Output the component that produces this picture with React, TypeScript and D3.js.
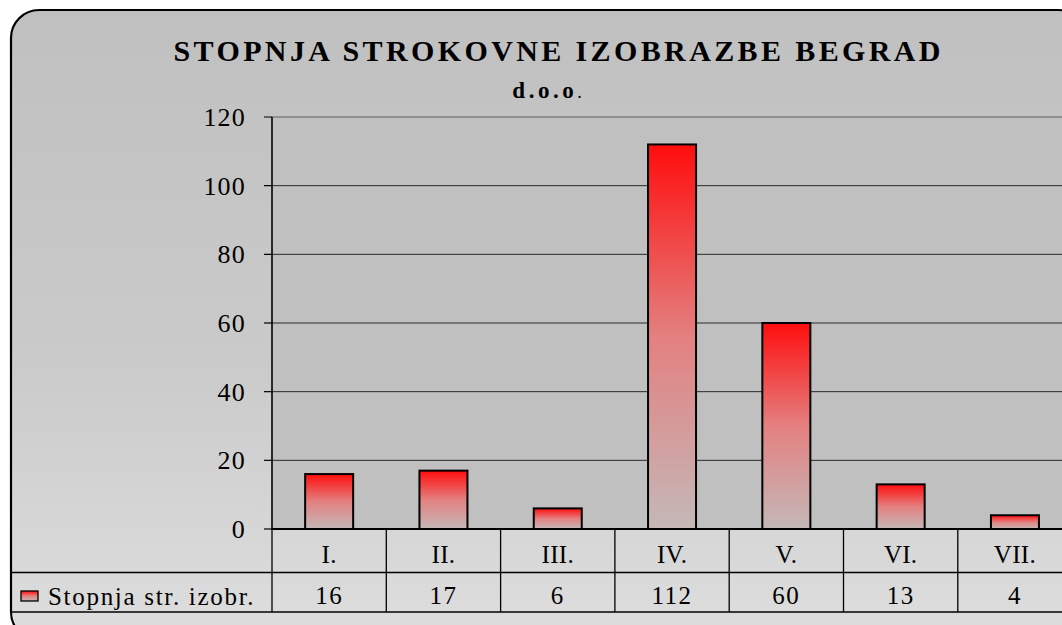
import React from 'react';
import * as d3 from 'd3';

const categories = ['I.', 'II.', 'III.', 'IV.', 'V.', 'VI.', 'VII.'];
const values = [16, 17, 6, 112, 60, 13, 4];
const yTicks = [0, 20, 40, 60, 80, 100, 120];
const seriesName = 'Stopnja str. izobr.';
const titleLine1 = 'STOPNJA STROKOVNE IZOBRAZBE BEGRAD';
const titleLine2 = 'd.o.o';

const W = 1062;
const H = 625;
const FONT = '"Liberation Serif", "Times New Roman", serif';

export default function App() {
  const plotLeft = 272;
  const plotTop = 117;
  const plotBottom = 529;
  const band = 114.3;
  const plotRight = plotLeft + band * categories.length;
  const row1 = 572.5;
  const row2 = 612;

  const x = d3.scaleBand<string>()
    .domain(categories)
    .range([plotLeft, plotRight])
    .paddingInner(0)
    .paddingOuter(0);

  const y = d3.scaleLinear()
    .domain([0, 120])
    .range([plotBottom, plotTop]);

  const barW = x.bandwidth() * 0.42;

  return (
    <svg width={W} height={H} style={{ position: 'absolute', left: 0, top: 0, background: '#fff' }}>
      <defs>
        <linearGradient id="bg" x1="0" y1="0" x2="0" y2="1">
          <stop offset="0" stopColor="#c0c0c0" />
          <stop offset="0.55" stopColor="#cacaca" />
          <stop offset="1" stopColor="#dedede" />
        </linearGradient>
        <linearGradient id="barFill" x1="0" y1="0" x2="0" y2="1">
          <stop offset="0" stopColor="#ff0d0d" />
          <stop offset="0.5" stopColor="#e48080" />
          <stop offset="1" stopColor="#c4b8b8" />
        </linearGradient>
        <clipPath id="frame">
          <rect x={11} y={10} width={1075} height={630} rx={28} ry={28} />
        </clipPath>
      </defs>

      {/* outer frame */}
      <rect x={11} y={10} width={1075} height={630} rx={28} ry={28}
        fill="url(#bg)" stroke="#000" strokeWidth={2.2} />

      <g clipPath="url(#frame)">
        {/* title */}
        <text x={557} y={61} textAnchor="middle" fontFamily={FONT} fontWeight="bold"
          fontSize={30} textLength={767} lengthAdjust="spacing">{titleLine1}</text>
        <text x={547} y={98} textAnchor="middle" fontFamily={FONT} fontSize={23}>
          <tspan fontWeight="bold" letterSpacing={3.5}>{titleLine2}</tspan>
          <tspan fontSize={18}>.</tspan>
        </text>

        {/* plot area */}
        <rect x={plotLeft} y={plotTop} width={plotRight - plotLeft} height={plotBottom - plotTop}
          fill="#c0c0c0" stroke="#808080" strokeWidth={1} />

        {/* gridlines */}
        {yTicks.filter(t => t > 0).map(t => (
          <line key={'g' + t} x1={plotLeft} x2={plotRight} y1={y(t)} y2={y(t)}
            stroke={t === 120 ? '#808080' : '#2a2a2a'} strokeWidth={1} />
        ))}

        {/* bars */}
        {categories.map((c, i) => {
          const cx = (x(c) ?? 0) + x.bandwidth() / 2;
          return (
            <rect key={'b' + c} x={cx - barW / 2} y={y(values[i])} width={barW}
              height={y(0) - y(values[i])} fill="url(#barFill)" stroke="#000" strokeWidth={2} />
          );
        })}

        {/* y axis */}
        <line x1={plotLeft} x2={plotLeft} y1={plotTop} y2={plotBottom} stroke="#000" strokeWidth={1.5} />
        {yTicks.map(t => (
          <g key={'t' + t}>
            <line x1={plotLeft - 8} x2={plotLeft} y1={y(t)} y2={y(t)} stroke="#000" strokeWidth={1.2} />
            <text x={246} y={y(t)} dy="0.35em" textAnchor="end" fontFamily={FONT}
              fontSize={26} letterSpacing={1.2}>{t}</text>
          </g>
        ))}

        {/* data table */}
        <line x1={plotLeft} x2={plotRight} y1={plotBottom} y2={plotBottom} stroke="#000" strokeWidth={2} />
        <line x1={11} x2={plotRight} y1={row1} y2={row1} stroke="#000" strokeWidth={1.3} />
        <line x1={11} x2={plotRight} y1={row2} y2={row2} stroke="#000" strokeWidth={1.3} />
        {categories.map(c => (
          <line key={'v' + c} x1={x(c) ?? 0} x2={x(c) ?? 0} y1={plotBottom} y2={row2}
            stroke="#000" strokeWidth={1.3} />
        ))}
        {categories.map((c, i) => {
          const cx = (x(c) ?? 0) + x.bandwidth() / 2;
          return (
            <g key={'l' + c}>
              <text x={cx} y={563} textAnchor="middle" fontFamily={FONT} fontSize={25}
                letterSpacing={0.3}>{c}</text>
              <text x={cx} y={604} textAnchor="middle" fontFamily={FONT} fontSize={25}
                letterSpacing={1.5}>{values[i]}</text>
            </g>
          );
        })}

        {/* legend key */}
        <rect x={21} y={591} width={17} height={10} fill="url(#barFill)" stroke="#000" strokeWidth={1.3} />
        <text x={48} y={605} fontFamily={FONT} fontSize={25} letterSpacing={1.7}>{seriesName}</text>
      </g>
    </svg>
  );
}
